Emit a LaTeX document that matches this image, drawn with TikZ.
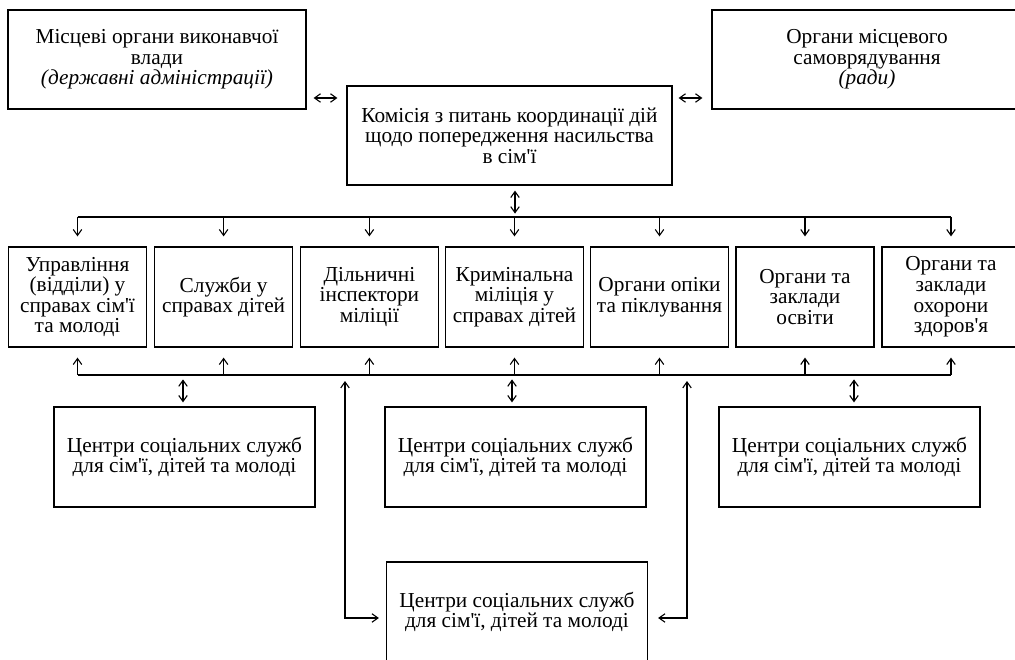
\documentclass[tikz,border=0pt]{standalone}
\usepackage{fontspec}
\setmainfont{Liberation Serif}[Ligatures=TeXOff]
\usetikzlibrary{arrows.meta,calc}
\newcommand{\ap}{'}
\begin{document}
\begin{tikzpicture}[x=1pt,y=-1pt,
  box/.style={draw,line width=1.2pt,align=center,inner sep=0pt,
    font=\fontsize{21.3}{20.6}\selectfont},
  topbox/.style={box,minimum width=298pt,minimum height=99pt},
  rowbox/.style={box,minimum width=138pt,minimum height=100pt},
  cbox/.style={box,minimum width=261pt,minimum height=100pt},
  conn/.style={line width=1.1pt},
  >={Straight Barb[length=6pt,width=8.5pt]}]
\clip (0,0) rectangle (1015,660);
\fill[white] (0,0) rectangle (1015,660);
% top level
\node[topbox] (tl) at (157,59.5) {Місцеві органи виконавчої\\влади\\\textit{(державні адміністрації)}};
\node[topbox,minimum width=310pt] (tr) at (867,59.5) {Органи місцевого\\самоврядування\\\textit{(ради)}};
\node[box,minimum width=325pt,minimum height=99pt] (cb) at (509.5,135.5) {Комісія з питань координації дій\\щодо попередження насильства\\в сім\ap ї};
% row
\node[rowbox] (r1) at (77.5,297) {Управління\\(відділи) у\\справах сім\ap ї\\та молоді};
\node[rowbox] (r2) at (223.6,297) {Служби у\\справах дітей};
\node[rowbox] (r3) at (369.4,297) {Дільничні\\інспектори\\міліції};
\node[rowbox] (r4) at (514.5,297) {Кримінальна\\міліція у\\справах дітей};
\node[rowbox] (r5) at (659.5,297) {Органи опіки\\та піклування};
\node[rowbox] (r6) at (805,297) {Органи та\\заклади\\освіти};
\node[rowbox] (r7) at (951,297) {Органи та\\заклади\\охорони\\здоров\ap я};
% centres
\node[cbox] (c1) at (184.5,457) {Центри соціальних служб\\для сім\ap ї, дітей та молоді};
\node[cbox] (c2) at (515.5,457) {Центри соціальних служб\\для сім\ap ї, дітей та молоді};
\node[cbox] (c3) at (849.5,457) {Центри соціальних служб\\для сім\ap ї, дітей та молоді};
\node[cbox] (c4) at (517,612) {Центри соціальних служб\\для сім\ap ї, дітей та молоді};
% connectors top
\draw[conn,<->] ($(tl.east)+(7,38.5)$) -- ($(cb.west)+(-9,-37.5)$);
\draw[conn,<->] ($(cb.east)+(6,-37.5)$) -- ($(tr.west)+(-9,38.5)$);
\coordinate (busA) at (0,217);
\coordinate (busB) at (0,375);
\draw[conn,<->] ($(cb.south)+(5.5,5)$) -- ($(cb.south)+(5.5,28)$);
\draw[conn] (r1.north |- busA) -- (r7.north |- busA);
\foreach \r in {r1,r2,r3,r4,r5,r6,r7}{
  \draw[conn,->] (\r.north |- busA) -- ($(\r.north)+(0,-10)$);
  \draw[conn,->] (\r.south |- busB) -- ($(\r.south)+(0,10)$);
}
\draw[conn] (r1.south |- busB) -- (r7.south |- busB);
% centres connectors
\draw[conn,<->] ($(c1.north)+(-1.5,-27)$) -- ($(c1.north)+(-1.5,-4)$);
\draw[conn,<->] ($(c2.north)+(-3.5,-27)$) -- ($(c2.north)+(-3.5,-4)$);
\draw[conn,<->] ($(c3.north)+(4.5,-27)$) -- ($(c3.north)+(4.5,-4)$);
\coordinate (lt) at (345,381);
\coordinate (rt) at (687,381);
\draw[conn,<->] (lt) |- ($(c4.west)+(-7,6)$);
\draw[conn,<->] (rt) |- ($(c4.east)+(10,6)$);
\end{tikzpicture}
\end{document}
